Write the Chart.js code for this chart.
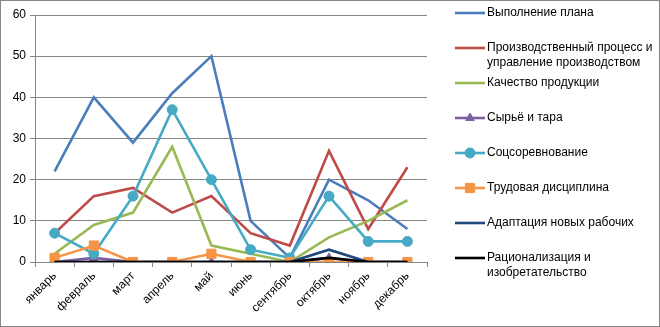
<!DOCTYPE html>
<html><head><meta charset="utf-8">
<script src="https://cdn.jsdelivr.net/npm/chart.js@4"></script>
<style>
html,body{margin:0;padding:0;background:#fff;}
#wrap{width:660px;height:327px;box-sizing:border-box;border:1px solid #868686;position:relative;}
canvas{display:block;}
</style></head>
<body><div id="wrap"><canvas id="c" width="658" height="325"></canvas></div>
<script>
const months = ["январь","февраль","март","апрель","май","июнь","сентябрь","октябрь","ноябрь","декабрь"];
const seriesNames = ["Выполнение плана","Производственный процесс и\nуправление производством","Качество продукции","Сырьё и тара","Соцсоревнование","Трудовая дисциплина","Адаптация новых рабочих","Рационализация и\nизобретательство"];
const planData      = [22,40,29,41,50,10,1,20,15,8];
const processData   = [7,16,18,12,16,7,4,27,8,23];
const qualityData   = [2,9,12,28,4,2,0,6,10,15];
const rawData       = [0,1,0,0,0,0,0,1,0,0];
const competeData   = [7,2,16,37,20,3,1,16,5,5];
const disciplineData= [1,4,0,0,2,0,0,0,0,0];
const adaptData     = [0,0,0,0,0,0,0,3,0,0];
const rationData    = [0,0,0,0,0,0,0,1,0,0];
const yTicks = [0,10,20,30,40,50,60];

const colors = ["#4A7EBB","#BE4B48","#98B954","#7D60A0","#46AAC5","#F69546","#1F497D","#000000"];
const styles = [null,null,null,"triangle","circle","rect",null,null];
const radii  = [0,0,0,5,5,6.5,0,0];
const all = [planData,processData,qualityData,rawData,competeData,disciplineData,adaptData,rationData];
const FONT = "Liberation Sans";

const datasets = all.map((d,i)=>({
  label: seriesNames[i],
  data: d,
  borderColor: colors[i],
  backgroundColor: colors[i],
  borderWidth: 2.6,
  pointStyle: styles[i] || 'circle',
  pointRadius: radii[i],
  pointHoverRadius: radii[i],
  pointBorderWidth: 1,
  pointBorderColor: colors[i],
  pointBackgroundColor: colors[i],
  tension: 0,
  order: all.length - i
}));

const legendPlugin = {
  id:'customLegend',
  afterDraw(chart){
    const ctx = chart.ctx;
    const x0 = 454, x1 = 484, tx = 486;
    ctx.save();
    ctx.font = "12px '"+FONT+"'";
    ctx.textBaseline = 'middle';
    ctx.fillStyle = '#000';
    chart.data.datasets.forEach((ds,i)=>{
      const y = 12 + i*35;
      ctx.strokeStyle = ds.borderColor;
      ctx.lineWidth = 2.6;
      ctx.beginPath(); ctx.moveTo(x0,y); ctx.lineTo(x1,y); ctx.stroke();
      if (ds.pointRadius > 0) {
        ctx.fillStyle = ds.borderColor;
        ctx.strokeStyle = ds.borderColor;
        ctx.lineWidth = 1;
        Chart.helpers.drawPoint(ctx,{pointStyle:ds.pointStyle,rotation:0,radius:ds.pointRadius,borderWidth:1},(x0+x1)/2,y);
      }
      ctx.fillStyle = '#000';
      ds.label.split('\n').forEach((line,k)=>{
        ctx.fillText(line, tx, y + k*15);
      });
    });
    ctx.restore();
  }
};

new Chart(document.getElementById('c'),{
  type:'line',
  data:{labels:months,datasets},
  plugins:[legendPlugin],
  options:{
    responsive:false,
    animation:false,
    layout:{padding:{top:14,right:232,left:0,bottom:0}},
    plugins:{legend:{display:false},tooltip:{enabled:false}},
    scales:{
      x:{
        offset:true,
        grid:{display:true,drawOnChartArea:false,color:'#868686',tickLength:5,offset:true},
        border:{color:'#868686',width:1},
        ticks:{minRotation:45,maxRotation:45,color:'#000',font:{family:FONT,size:12},padding:2},
        afterFit(s){s.height = 64;}
      },
      y:{
        min:0,max:60,
        grid:{color:'#868686',tickLength:5},
        border:{color:'#868686',width:1},
        ticks:{stepSize:10,color:'#000',font:{family:FONT,size:12},padding:4,
          callback:(v)=> yTicks.includes(v) ? String(v) : ''},
        afterFit(s){s.width = 34;}
      }
    }
  }
});
</script></body></html>
